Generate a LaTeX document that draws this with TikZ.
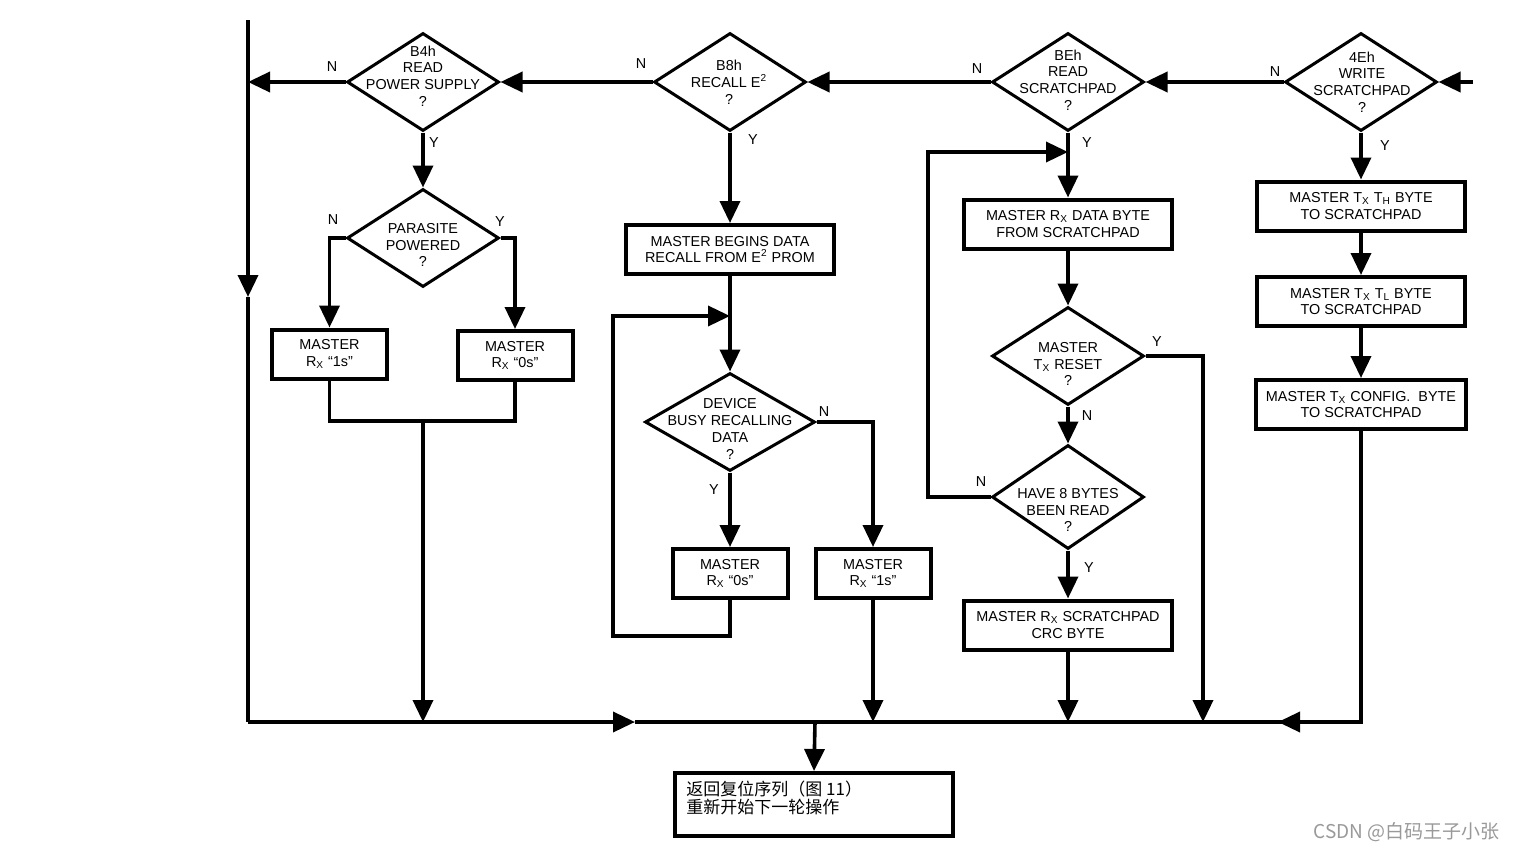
\documentclass[tikz,border=0pt]{standalone}
\usepackage{fontspec}
\setmainfont{Liberation Sans}
\newfontfamily\cjk{Noto Sans CJK SC}
\usetikzlibrary{shapes.geometric,arrows.meta}

\tikzset{
  ln/.style={line width=1.8pt},
  arr/.style={ln,-{Triangle[length=11pt,width=10pt]}},
  decision/.style={diamond,draw,line width=1.5pt,minimum width=76pt,minimum height=49pt,inner sep=0pt},
  dtext/.style={align=center,inner sep=0pt},
  stepbox/.style={draw,line width=2pt,minimum width=104pt,minimum height=24.5pt,align=center,inner sep=1pt},
  smallbox/.style={stepbox,minimum width=57.5pt},
  yn/.style={inner sep=0pt},
}

\begin{document}
\begin{tikzpicture}[x=0.5pt,y=-0.5pt,font=\fontsize{7.2}{8.4}\selectfont]
    \useasboundingbox (0,0) rectangle (1517,851);

    % command decisions along the top
    \node[decision] (d1) at (423,82) {};
    \node[dtext] (d1t) at (423,76) {B4h\\READ\\POWER SUPPLY\\?};
    \node[decision] (d2) at (730,82) {};
    \node[dtext] (d2t) at (729,82) {B8h\\RECALL E\textsuperscript{2}\\?};
    \node[decision] (d3) at (1068,82) {};
    \node[dtext] (d3t) at (1068,80) {BEh\\READ\\SCRATCHPAD\\?};
    \node[decision] (d4) at (1361,82) {};
    \node[dtext] (d4t) at (1362,82) {4Eh\\WRITE\\SCRATCHPAD\\?};

    % B4h column
    \node[decision] (par) at (423,238) {};
    \node[dtext] (part) at (423,245) {PARASITE\\POWERED\\?};
    \node[smallbox] (l1) at (329.5,354) {MASTER\\R\textsubscript{X} ``1s''};
    \node[smallbox] (r1) at (515,355.5) {MASTER\\R\textsubscript{X} ``0s''};

    % B8h column
    \node[stepbox] (rec) at (730,249.5) {MASTER BEGINS DATA\\RECALL FROM E\textsuperscript{2} PROM};
    \node[decision,minimum width=85pt] (busy) at (730,422) {};
    \node[dtext] (busyt) at (730,429) {DEVICE\\BUSY RECALLING\\DATA\\?};
    \node[smallbox] (z0) at (730,573.5) {MASTER\\R\textsubscript{X} ``0s''};
    \node[smallbox] (o1) at (873,573.5) {MASTER\\R\textsubscript{X} ``1s''};

    % BEh column
    \node[stepbox] (rd) at (1068,224) {MASTER R\textsubscript{X} DATA BYTE\\FROM SCRATCHPAD};
    \node[decision] (rst) at (1068,356) {};
    \node[dtext] (rstt) at (1068,364) {MASTER\\T\textsubscript{X} RESET\\?};
    \node[decision,minimum height=52pt] (h8) at (1068,497) {};
    \node[dtext] (h8t) at (1068,510) {HAVE 8 BYTES\\BEEN READ\\?};
    \node[stepbox] (crc) at (1068,625) {MASTER R\textsubscript{X} SCRATCHPAD\\CRC BYTE};

    % 4Eh column
    \node[stepbox] (th) at (1361,206) {MASTER T\textsubscript{X} T\textsubscript{H} BYTE\\TO SCRATCHPAD};
    \node[stepbox] (tl) at (1361,301.5) {MASTER T\textsubscript{X} T\textsubscript{L} BYTE\\TO SCRATCHPAD};
    \node[stepbox,minimum width=105pt] (cf) at (1361,404.5) {MASTER T\textsubscript{X} CONFIG.\ \ BYTE\\TO SCRATCHPAD};

    % end box
    \node[draw,line width=2pt,minimum width=139pt,minimum height=31.5pt] (fin) at (814,804.5) {};
    \node[anchor=north west,align=left,inner sep=0pt,font=\cjk\fontsize{8.5}{9}\selectfont] (fint) at (686,781) {返回复位序列（图 11）\\重新开始下一轮操作};

    % Y / N labels
    \node[yn] (n1) at (332,67) {N};
    \node[yn] (y1) at (434,143) {Y};
    \node[yn] (n2) at (641,64) {N};
    \node[yn] (y2) at (753,140) {Y};
    \node[yn] (n3) at (977,69) {N};
    \node[yn] (y3) at (1087,143) {Y};
    \node[yn] (n4) at (1275,72) {N};
    \node[yn] (y4) at (1385,146) {Y};
    \node[yn] (npar) at (333,220) {N};
    \node[yn] (ypar) at (500,222) {Y};
    \node[yn] (nbusy) at (824,412) {N};
    \node[yn] (ybusy) at (714,490) {Y};
    \node[yn] (yrst) at (1157,342) {Y};
    \node[yn] (nrst) at (1087,416) {N};
    \node[yn] (nh8) at (981,482) {N};
    \node[yn] (yh8) at (1089,568) {Y};

    % junctions
    \coordinate (in) at (1473,82);
    \coordinate (ltop) at (248,20);
    \coordinate (ldn) at (248,297);
    \coordinate (lbot) at (248,722);
    \coordinate (bra) at (635,722);
    \coordinate (bj) at (815,722);
    \coordinate (bla) at (1278,722);
    \coordinate (rbot) at (1361,722);
    \coordinate (m1) at (423,421);
    \coordinate (j2) at (730,316);
    \coordinate (lp2) at (613,636);
    \coordinate (j3) at (1068,152);
    \coordinate (lp3) at (928,497);
    \coordinate (yb) at (1203,722);

    % top row
    \draw[arr] (in) -- (d4.east);
    \draw[arr] (d4.west) -- (d3.east);
    \draw[arr] (d3.west) -- (d2.east);
    \draw[arr] (d2.west) -- (d1.east);
    \draw[arr] (d1.west) -- (d1.west -| ltop);

    % outer return path
    \draw[arr] (ltop) -- (ldn);
    \draw[ln] (ldn) -- (lbot);
    \draw[arr] (lbot) -- (bra);
    \draw[ln] (bra) -- (rbot);
    \draw[arr] (cf.south) -- (rbot) -- (bla);
    \draw[arr] (bj) -- (fin.north);

    % B4h
    \draw[arr] (d1.south) -- (par.north);
    \draw[arr] (par.west) -| (l1.north);
    \draw[arr] (par.east) -| (r1.north);
    \draw[ln] (l1.south) |- (m1) -| (r1.south);
    \draw[arr] (m1) -- (m1 |- bj);

    % B8h
    \draw[arr] (d2.south) -- (rec.north);
    \draw[ln] (rec.south) -- (j2);
    \draw[arr] (j2) -- (busy.north);
    \draw[arr] (busy.south) -- (z0.north);
    \draw[arr] (busy.east) -| (o1.north);
    \draw[arr] (z0.south) |- (lp2) |- (j2);
    \draw[arr] (o1.south) -- (o1.south |- bj);

    % BEh
    \draw[ln] (d3.south) -- (j3);
    \draw[arr] (j3) -- (rd.north);
    \draw[arr] (rd.south) -- (rst.north);
    \draw[arr] (rst.south) -- (h8.north);
    \draw[arr] (rst.east) -| (yb);
    \draw[arr] (h8.west) -- (lp3) |- (j3);
    \draw[arr] (h8.south) -- (crc.north);
    \draw[arr] (crc.south) -- (crc.south |- bj);

    % 4Eh
    \draw[arr] (d4.south) -- (th.north);
    \draw[arr] (th.south) -- (tl.north);
    \draw[arr] (tl.south) -- (cf.north);

    \node[text=black!40,font=\cjk\fontsize{9.5}{10}\selectfont,anchor=east,inner sep=0pt] (wm) at (1500,832) {CSDN @白码王子小张};
\end{tikzpicture}
\end{document}
